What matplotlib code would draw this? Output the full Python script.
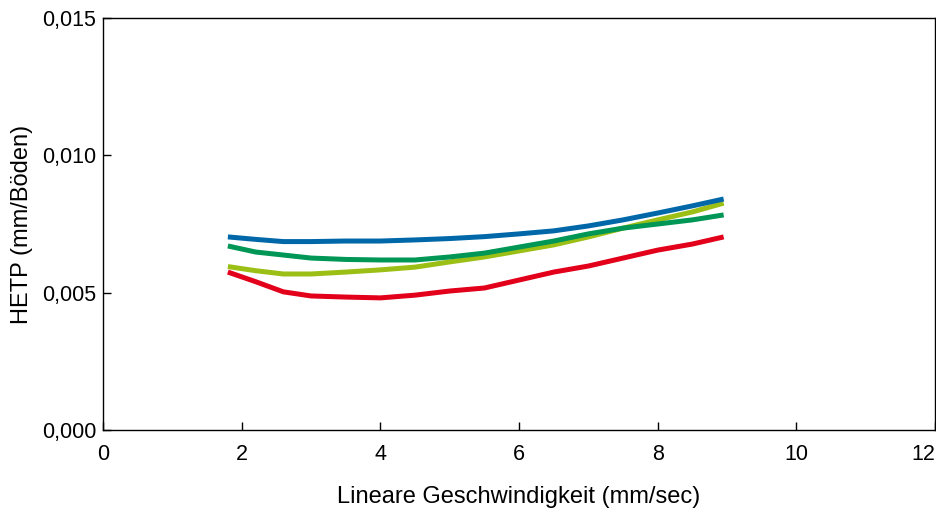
import matplotlib
matplotlib.use("Agg")
import matplotlib.pyplot as plt
from matplotlib.ticker import FuncFormatter

plt.rcParams['font.family'] = ['Liberation Sans', 'DejaVu Sans']

x = [1.8, 2.2, 2.6, 3.0, 3.5, 4.0, 4.5, 5.0, 5.5, 6.0, 6.5, 7.0, 7.5, 8.0, 8.5, 8.95]
blue = [0.00703, 0.00694, 0.00686, 0.00686, 0.00688, 0.00688, 0.00692, 0.00697,
        0.00704, 0.00714, 0.00725, 0.00743, 0.00765, 0.00790, 0.00816, 0.00841]
green = [0.00670, 0.00648, 0.00637, 0.00626, 0.00621, 0.00619, 0.00619, 0.00630,
         0.00644, 0.00666, 0.00688, 0.00714, 0.00735, 0.00750, 0.00765, 0.00783]
yellow = [0.00595, 0.00580, 0.00568, 0.00568, 0.00575, 0.00583, 0.00593, 0.00612,
          0.00630, 0.00652, 0.00674, 0.00703, 0.00735, 0.00765, 0.00794, 0.00826]
red = [0.00575, 0.00540, 0.00503, 0.00488, 0.00484, 0.00481, 0.00491, 0.00506,
       0.00517, 0.00546, 0.00575, 0.00597, 0.00626, 0.00655, 0.00677, 0.00703]

xticks = [0, 2, 4, 6, 8, 10, 12]
yticks = [0.0, 0.005, 0.010, 0.015]

fig = plt.figure(figsize=(9.37, 5.11), dpi=100)
ax = fig.add_axes([0.110, 0.1585, 0.888, 0.8063])

lw = 3.6
ax.plot(x, red, color='#e2001a', lw=lw, solid_capstyle='butt', solid_joinstyle='round')
ax.plot(x, yellow, color='#9bbf14', lw=lw, solid_capstyle='butt', solid_joinstyle='round')
ax.plot(x, green, color='#009655', lw=lw, solid_capstyle='butt', solid_joinstyle='round')
ax.plot(x, blue, color='#0068a8', lw=lw, solid_capstyle='butt', solid_joinstyle='round')

ax.set_xlim(0, 12)
ax.set_ylim(0, 0.015)
ax.set_xticks(xticks)
ax.set_yticks(yticks)
ax.yaxis.set_major_formatter(FuncFormatter(lambda v, p: f"{v:.3f}".replace('.', ',')))
ax.tick_params(direction='in', length=6, width=1, labelsize=15.5)
ax.tick_params(axis='y', pad=5)
ax.tick_params(axis='x', pad=10)
for s in ax.spines.values():
    s.set_linewidth(1)

xl = ax.get_xticklabels()
xl[-1].set_horizontalalignment('right')

ax.set_xlabel('Lineare Geschwindigkeit (mm/sec)', fontsize=17, labelpad=15)
ax.set_ylabel('HETP (mm/Böden)', fontsize=17, labelpad=6)

fig.savefig('out.png', dpi=100)
